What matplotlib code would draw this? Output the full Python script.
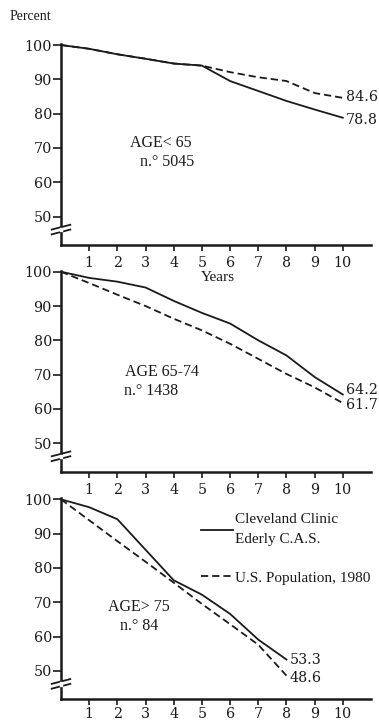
import matplotlib
matplotlib.use('Agg')
import matplotlib.pyplot as plt

plt.rcParams['font.family'] = ['Liberation Serif', 'DejaVu Serif']

# データ
years = [0, 1, 2, 3, 4, 5, 6, 7, 8, 9, 10]
years_75 = [0, 1, 2, 3, 4, 5, 6, 7, 8]

clinic_u65 = [100, 98.9, 97.3, 96.0, 94.6, 94.0, 89.5, 86.6, 83.7, 81.2, 78.8]
us_u65 = [100, 98.9, 97.3, 96.0, 94.6, 94.0, 92.1, 90.6, 89.5, 86.0, 84.6]

clinic_6574 = [100, 98.2, 97.1, 95.4, 91.5, 88.0, 84.9, 80.0, 75.6, 69.3, 64.2]
us_6574 = [100, 96.7, 93.3, 90.0, 86.3, 82.9, 79.0, 74.6, 70.2, 66.3, 61.7]

clinic_75 = [100, 97.7, 94.2, 85.3, 76.4, 72.2, 66.6, 59.1, 53.3]
us_75 = [100, 93.9, 87.8, 81.8, 75.7, 69.5, 63.6, 57.6, 48.6]

panel_titles = [('AGE< 65', 'n.° 5045'), ('AGE 65-74', 'n.° 1438'), ('AGE> 75', 'n.° 84')]
yticks = [50, 60, 70, 80, 90, 100]
xticks = [1, 2, 3, 4, 5, 6, 7, 8, 9, 10]
legend_labels = ['Cleveland Clinic\nEderly C.A.S.', 'U.S. Population, 1980']

INK = '#1a1a1a'
NUM_FONT = 'DejaVu Serif'
W, H = 379, 722

fig = plt.figure(figsize=(W / 100, H / 100), dpi=100)

# パネル位置（ピクセル → 図座標）
left = 61 / W
width = 310 / W
height = 201 / H
bottoms_px = [245, 471.7, 699.3]

panels = [
    (years, clinic_u65, us_u65),
    (years, clinic_6574, us_6574),
    (years_75, clinic_75, us_75),
]

# テキスト位置（年, %）
title_pos = [((2.45, 71.3), (2.8, 65.8)), ((2.27, 70.8), (2.23, 65.3)), ((1.67, 68.6), (2.1, 63.0))]
# 終点ラベルの縦ずらし（重なり回避）
end_shift = [(-0.8, 0.3), (1.3, -0.5), (0.0, -0.8)]
xpads = [4, 4, 1.5]

axes = []
for i, (xs, clinic, us) in enumerate(panels):
    ax = fig.add_axes([left, 1 - bottoms_px[i] / H, width, height])
    axes.append(ax)
    l1, = ax.plot(xs, clinic, color=INK, lw=1.3, solid_joinstyle='round')
    l2, = ax.plot(xs, us, color=INK, lw=1.3, dashes=(4, 2.2))

    ax.set_xlim(0, 11)
    ax.set_ylim(41.7, 100.3)
    ax.set_xticks(xticks)
    ax.set_yticks(yticks)
    ax.tick_params(axis='both', direction='out', length=5, width=1.2, color=INK,
                   labelsize=10.3, labelcolor=INK)
    ax.tick_params(axis='y', pad=0.5, length=6)
    ax.tick_params(axis='x', pad=xpads[i], length=4)
    for lab in ax.get_xticklabels() + ax.get_yticklabels():
        lab.set_fontfamily(NUM_FONT)
    for s in ['top', 'right']:
        ax.spines[s].set_visible(False)
    for s in ['left', 'bottom']:
        ax.spines[s].set_linewidth(1.8)
        ax.spines[s].set_color(INK)
    ax.patch.set_alpha(0)

    # 軸の省略記号 //
    for yb in [46.9, 45.5]:
        ax.plot([-0.33, 0.33], [yb - 0.7, yb + 0.7], color=INK, lw=1.3, clip_on=False)
    ax.fill_between([-0.05, 0.05], [45.7, 45.7], [46.7, 46.7], color='white', clip_on=False, zorder=5)

    # 終点ラベル
    sc, su = end_shift[i]
    ax.text(xs[-1] + 0.12, clinic[-1] + sc, f'{clinic[-1]:.1f}', fontsize=10.3, family=NUM_FONT,
            color=INK, va='center', ha='left')
    ax.text(xs[-1] + 0.12, us[-1] + su, f'{us[-1]:.1f}', fontsize=10.3, family=NUM_FONT,
            color=INK, va='center', ha='left')

    (t1, t2) = panel_titles[i]
    (p1, p2) = title_pos[i]
    ax.text(p1[0], p1[1], t1, fontsize=11.5, color=INK, va='center', ha='left')
    ax.text(p2[0], p2[1], t2, fontsize=11.5, color=INK, va='center', ha='left')

    if i == 2:
        leg = ax.legend([l1, l2], legend_labels, loc='upper left', bbox_to_anchor=(0.452, 0.925),
                        frameon=False, fontsize=11, handlelength=2.1, handletextpad=0.15,
                        labelspacing=1.6, borderaxespad=0, borderpad=0, labelcolor=INK)
        for t in leg.get_texts():
            t.set_linespacing(1.7)

axes[0].text(5.57, 32.1, 'Years', fontsize=11, color=INK, ha='center', va='center')
fig.text(10 / W, 1 - 17 / H, 'Percent', fontsize=10, color=INK, ha='left', va='center')

fig.savefig('out.png', dpi=100)
